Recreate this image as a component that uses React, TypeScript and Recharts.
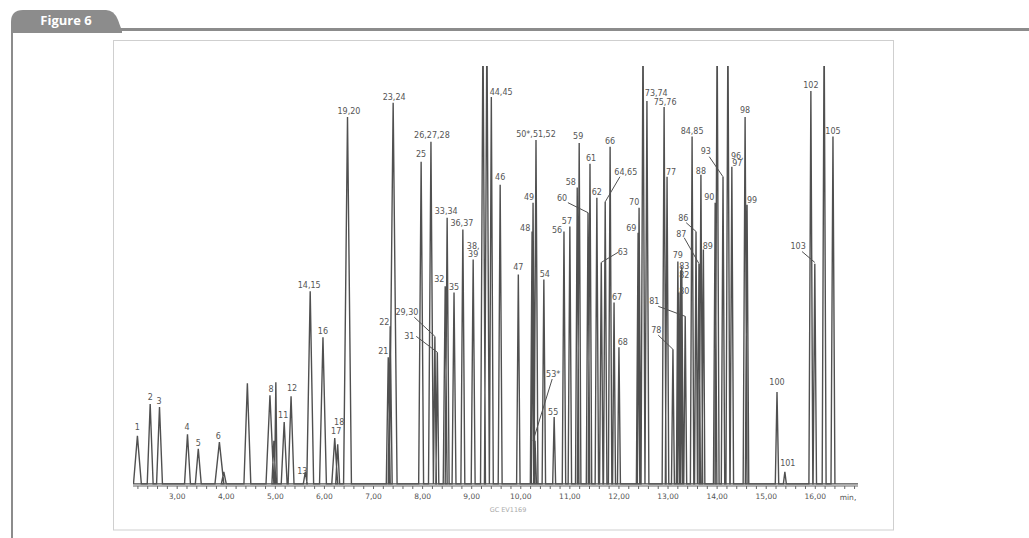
import { ComposedChart, Line, Scatter, XAxis, YAxis, ReferenceLine } from 'recharts';

// [retention time (min), height (% of plot), half base width (min)]
type Peak = [number, number, number];

const earlyPeaks: Peak[] = [
  [2.19, 11.5, 0.08], [2.45, 19.1, 0.06], [2.64, 18.4, 0.06], [3.21, 11.9, 0.06],
  [3.43, 8.4, 0.06], [3.86, 10.0, 0.09], [3.95, 2.9, 0.05], [4.43, 24.1, 0.07],
  [4.89, 21.2, 0.08], [4.97, 10.3, 0.04], [5.01, 24.3, 0.025], [5.18, 14.8, 0.06],
  [5.32, 21.0, 0.06], [5.61, 2.9, 0.04], [5.71, 46.1, 0.07], [5.97, 35.1, 0.07],
  [6.21, 11.0, 0.06], [6.27, 9.5, 0.04], [6.47, 87.8, 0.08],
];

const midPeaks: Peak[] = [
  [7.30, 30.3, 0.04], [7.34, 37.7, 0.04], [7.40, 91.2, 0.08], [7.97, 77.1, 0.05],
  [8.17, 81.9, 0.05], [8.25, 35.3, 0.03], [8.30, 31.5, 0.03], [8.46, 47.3, 0.04],
  [8.50, 63.7, 0.04], [8.64, 45.8, 0.04], [8.82, 60.9, 0.04], [9.03, 53.7, 0.04],
  [9.23, 110, 0.05], [9.31, 110, 0.05], [9.40, 92.6, 0.04], [9.58, 71.6, 0.04],
  [9.95, 50.1, 0.035], [10.23, 60.4, 0.035], [10.25, 67.3, 0.035], [10.31, 82.3, 0.04],
  [10.29, 10.3, 0.03], [10.47, 48.9, 0.035], [10.68, 16.0, 0.03], [10.88, 60.4, 0.035],
  [11.00, 61.6, 0.035], [11.15, 70.9, 0.035], [11.19, 81.6, 0.035], [11.37, 64.9, 0.035],
  [11.41, 76.6, 0.035], [11.55, 68.5, 0.035], [11.64, 53.0, 0.035], [11.72, 67.5, 0.035],
  [11.82, 80.7, 0.035], [11.90, 43.4, 0.03], [12.00, 32.7, 0.03],
];

const latePeaks: Peak[] = [
  [12.39, 60.1, 0.035], [12.41, 66.1, 0.035], [12.49, 110, 0.04], [12.57, 91.6, 0.04],
  [12.92, 90.2, 0.04], [12.98, 73.5, 0.035], [13.10, 32.2, 0.03], [13.20, 53.2, 0.03],
  [13.22, 45.8, 0.03], [13.26, 51.1, 0.03], [13.28, 52.0, 0.03], [13.35, 40.1, 0.03],
  [13.49, 83.1, 0.035], [13.57, 60.4, 0.03], [13.63, 52.7, 0.03], [13.67, 74.0, 0.035],
  [13.72, 56.1, 0.03], [13.96, 67.3, 0.035], [14.00, 110, 0.04], [14.12, 73.5, 0.035],
  [14.22, 110, 0.04], [14.30, 75.9, 0.035], [14.57, 87.8, 0.04], [14.61, 66.8, 0.035],
  [15.22, 22.0, 0.035], [15.38, 2.9, 0.03], [15.91, 94.0, 0.04], [15.99, 52.7, 0.035],
  [16.18, 110, 0.04], [16.36, 83.1, 0.04],
];

// peak numbers: [text, time, height]
const peakLabels: [string, number, number][] = [
  ['1', 2.19, 13.6], ['2', 2.45, 20.8], ['3', 2.63, 19.8], ['4', 3.2, 13.6],
  ['5', 3.43, 9.8], ['6', 3.84, 11.5], ['8', 4.91, 22.7], ['11', 5.16, 16.5],
  ['12', 5.34, 22.9], ['13', 5.55, 3.1], ['14,15', 5.69, 47.5], ['16', 5.97, 36.5],
  ['17', 6.24, 12.6], ['18', 6.3, 14.8], ['19,20', 6.5, 89.3], ['21', 7.2, 31.7],
  ['22', 7.22, 38.7], ['23,24', 7.42, 92.6], ['25', 7.97, 78.8], ['26,27,28', 8.19, 83.5],
  ['29,30', 7.68, 41.1], ['31', 7.73, 35.3], ['32', 8.34, 48.9], ['33,34', 8.48, 65.2],
  ['35', 8.64, 47.0], ['36,37', 8.8, 62.3], ['38,', 9.03, 56.8], ['39', 9.03, 54.9],
  ['44,45', 9.6, 93.8], ['46', 9.58, 73.3], ['47', 9.95, 51.8], ['48', 10.09, 61.1],
  ['49', 10.17, 68.5], ['50*,51,52', 10.31, 83.8], ['53*', 10.66, 26.3], ['54', 10.49, 50.1],
  ['55', 10.66, 17.2], ['56', 10.74, 60.6], ['57', 10.94, 62.8], ['58', 11.02, 72.1],
  ['59', 11.17, 83.3], ['60', 10.84, 68.3], ['61', 11.43, 78.0], ['62', 11.55, 69.7],
  ['63', 12.08, 55.4], ['64,65', 12.14, 74.7], ['66', 11.82, 82.1], ['67', 11.96, 44.6],
  ['68', 12.08, 33.9], ['69', 12.25, 61.3], ['70', 12.31, 67.3], ['73,74', 12.76, 93.6],
  ['75,76', 12.94, 91.4], ['77', 13.06, 74.5], ['78', 12.76, 36.8], ['79', 13.2, 54.7],
  ['83', 13.33, 52.0], ['82', 13.33, 49.9], ['80', 13.33, 46.1], ['81', 12.72, 43.7],
  ['84,85', 13.49, 84.5], ['86', 13.31, 63.5], ['87', 13.27, 59.7], ['88', 13.67, 74.9],
  ['89', 13.81, 57.0], ['90', 13.84, 68.5], ['93', 13.77, 79.5], ['96,', 14.41, 78.5],
  ['97', 14.41, 76.8], ['98', 14.57, 89.5], ['99', 14.71, 68.0], ['100', 15.22, 24.3],
  ['101', 15.44, 5.0], ['102', 15.91, 95.5], ['103', 15.65, 56.8], ['105', 16.36, 84.5],
];

// leader lines from label to peak: [t1, h1, t2, h2]
const leaders: [number, number, number, number][] = [
  [7.83, 39.9, 8.25, 35.3], [7.87, 35.3, 8.3, 31.5], [10.64, 25.1, 10.25, 10.3],
  [10.96, 67.3, 11.37, 64.9], [11.98, 55.4, 11.64, 53.0], [12.02, 73.5, 11.72, 67.5],
  [12.8, 35.6, 13.1, 32.2], [12.8, 42.5, 13.35, 40.1], [13.37, 62.5, 13.57, 60.4],
  [13.33, 58.9, 13.63, 52.7], [13.84, 78.3, 14.12, 73.5], [15.73, 55.6, 15.99, 53.0],
];

const timeTicks = Array.from({ length: 74 }, (_, i) => Math.round((2.2 + i * 0.2) * 10) / 10);

const trace = [...earlyPeaks, ...midPeaks, ...latePeaks].flatMap(([t, h, w]) => [
  { t: t - w, v: 0 },
  { t, v: h },
  { t: t + w, v: 0 },
]);

const labelData = peakLabels.map(([text, t, h]) => ({ text, t, h }));

const ink = '#505050';
const frameGray = '#8c8c8c';

const TimeTick = ({ x, y, payload }: any) => {
  const v = payload.value;
  const major = Math.abs(v - Math.round(v)) < 1e-6;
  return (
    <g>
      <line x1={x} y1={y} x2={x} y2={y + 3} stroke="#666" strokeWidth={1} />
      {major && (
        <text x={x} y={y + 13} textAnchor="middle" fontSize={7.5} fill="#555" fontFamily="DejaVu Sans">
          {`${Math.round(v)},00`}
        </text>
      )}
    </g>
  );
};

const PeakLabel = ({ cx, cy, payload }: any) => (
  <text x={cx} y={cy} dy="0.35em" textAnchor="middle" fontSize={8} fill="#555" fontFamily="DejaVu Sans">
    {payload.text}
  </text>
);

export default function App() {
  return (
    <div style={{ position: 'absolute', left: 0, top: 0, width: 1029, height: 538, background: '#fff' }}>
      <svg width={1029} height={538} style={{ position: 'absolute', left: 0, top: 0 }}>
        <path d="M11,33 L11,22 Q11,10 23,10 L106,10 Q114,10 118,20 L122,31 L122,33 Z" fill={frameGray} />
        <text x={66} y={25} textAnchor="middle" fill="#fff" fontSize={13} fontWeight="bold" fontFamily="'Liberation Sans Narrow', 'Open Sans', sans-serif">
          Figure 6
        </text>
        <rect x={118} y={28} width={911} height={3} fill={frameGray} />
        <rect x={11} y={31} width={2} height={507} fill={frameGray} />
        <rect x={113.5} y={40.5} width={780} height={489.5} fill="none" stroke="#cfcfcf" strokeWidth={1} />
        <text x={848} y={500} textAnchor="middle" fontSize={7.5} fill="#555" fontFamily="DejaVu Sans">min,</text>
        <text x={508} y={512} textAnchor="middle" fontSize={6.5} fill="#aaa" fontFamily="DejaVu Sans">GC EV1169</text>
      </svg>
      <div style={{ position: 'absolute', left: 0, top: 0 }}>
        <ComposedChart width={1029} height={538} margin={{ top: 66, right: 171, bottom: 32, left: 133 }}>
          <XAxis
            type="number"
            dataKey="t"
            domain={[2.1, 16.87]}
            allowDataOverflow
            ticks={timeTicks}
            interval={0}
            tick={<TimeTick />}
            tickSize={0}
            tickMargin={0}
            tickLine={false}
            axisLine={{ stroke: '#666' }}
            height={20}
          />
          <YAxis type="number" domain={[-0.5, 100]} allowDataOverflow hide />
          <ReferenceLine y={0} stroke={ink} strokeWidth={1.2} />
          <Line
            data={trace}
            dataKey="v"
            type="linear"
            stroke={ink}
            strokeWidth={1.4}
            dot={false}
            activeDot={false}
            isAnimationActive={false}
          />
          {leaders.map(([t1, h1, t2, h2], i) => (
            <ReferenceLine
              key={i}
              segment={[{ x: t1, y: h1 }, { x: t2, y: h2 }]}
              stroke={ink}
              strokeWidth={1}
            />
          ))}
          <Scatter data={labelData} dataKey="h" shape={<PeakLabel />} isAnimationActive={false} />
        </ComposedChart>
      </div>
    </div>
  );
}
